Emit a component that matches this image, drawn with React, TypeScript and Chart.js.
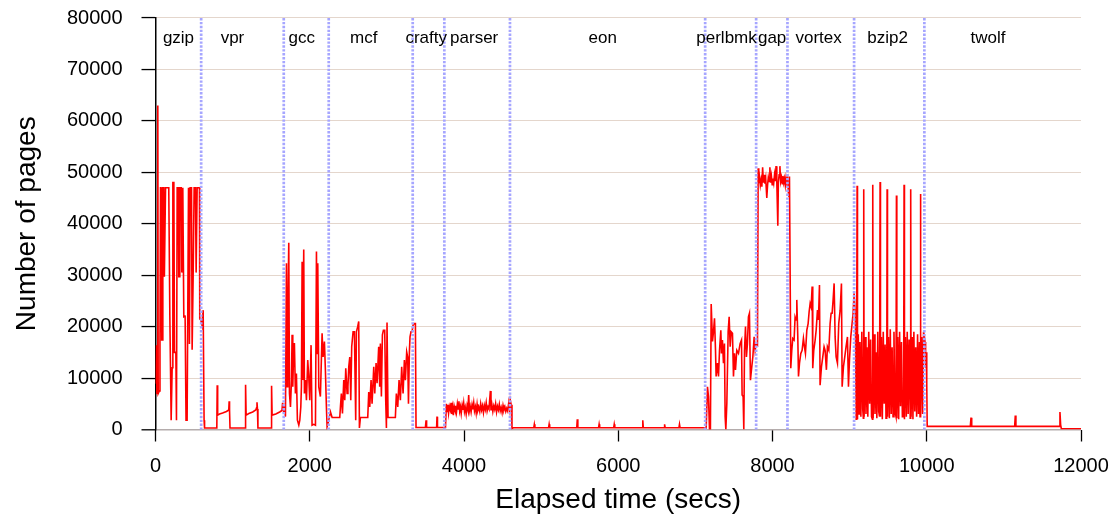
import { useEffect, useRef } from 'react';
import { Chart, registerables } from 'chart.js';

Chart.register(...registerables);

const FONT = '"Liberation Sans", Arial, Helvetica, sans-serif';

// Benchmark names, their boundaries (secs) and label centres (secs)
const benchNames = ['gzip', 'vpr', 'gcc', 'mcf', 'crafty', 'parser', 'eon', 'perlbmk', 'gap', 'vortex', 'bzip2', 'twolf'];
const benchBoundaries = [592, 1663, 2246, 3335, 3745, 4596, 7127, 7788, 8194, 9058, 9969];
const benchLabelCenters = [298, 998, 1896, 2700, 3510, 4132, 5799, 7404, 7995, 8598, 9492, 10795];

const xTicksMax = 12000;
const xTickStep = 2000;
const yTicksMax = 80000;
const yTickStep = 10000;

// [elapsed secs, number of pages]
const gzipTrace: [number, number][] = [
  [0, 9000], [6, 12200], [12, 16400], [18, 7000], [26, 7000], [30, 63000], [35, 7000], [50, 7500], [58, 17000], [65, 47000],
  [72, 47000], [80, 17400], [88, 17400], [95, 47000], [108, 47000], [115, 29700], [121, 29700], [130, 47000], [172, 47000], [186, 21900],
  [203, 1800], [216, 12000], [225, 48000], [238, 48000], [246, 15000], [264, 15000], [272, 1800], [281, 47000], [296, 47000], [302, 29700],
  [311, 29700], [315, 47000], [333, 47000], [341, 30500], [354, 47000], [367, 21900], [384, 22000], [396, 1800], [410, 1800], [428, 47000],
  [440, 16600], [449, 47000], [467, 47000], [475, 15500], [488, 29700], [501, 47000], [518, 47000], [527, 30500], [540, 47000], [570, 47000],
  [574, 21500], [583, 21500], [592, 21000],
];

const vprTrace: [number, number][] = [
  [600, 20500], [610, 21800], [618, 23200], [624, 23200], [630, 1800], [636, 300], [795, 300], [800, 8600], [806, 2800], [830, 3000],
  [870, 3200], [920, 3500], [950, 3800], [955, 5500], [960, 3800], [966, 300], [1163, 300], [1168, 8700], [1175, 2800], [1210, 3100],
  [1260, 3400], [1300, 3800], [1310, 4200], [1316, 5300], [1322, 4000], [1328, 300], [1500, 300], [1505, 8500], [1512, 2800], [1560, 3000],
  [1610, 3400], [1640, 3700], [1648, 5200], [1656, 4000],
];

const gccTrace: [number, number][] = [
  [1663, 3400], [1672, 5000], [1685, 2500], [1698, 32300], [1706, 8300], [1715, 21300], [1728, 36300], [1737, 7000], [1750, 4400], [1763, 9600],
  [1771, 18400], [1780, 8300], [1788, 13500], [1801, 16800], [1814, 7000], [1827, 10900], [1840, 1800], [1858, 840], [1871, 1800], [1884, 4400],
  [1892, 8300], [1901, 32600], [1909, 9600], [1922, 35000], [1931, 7000], [1944, 9600], [1957, 5700], [1974, 13500], [1987, 10300], [2000, 5700],
  [2017, 16400], [2030, 840], [2052, 1000], [2074, 840], [2087, 34600], [2095, 14800], [2104, 32300], [2117, 8300], [2138, 6400], [2160, 18700],
  [2173, 14100], [2190, 17100], [2203, 11500], [2216, 4400], [2225, 500], [2246, 1800],
];

const mcfTrace: [number, number][] = [
  [2268, 3440], [2290, 2340], [2389, 2340], [2398, 4400], [2410, 7000], [2424, 3100], [2441, 9600], [2454, 5700], [2467, 11900], [2484, 7000],
  [2495, 8300], [2506, 12200], [2519, 14100], [2532, 5700], [2544, 16100], [2562, 19000], [2579, 19000], [2596, 1800], [2605, 19000], [2622, 20000],
  [2635, 21000], [2644, 300], [2657, 2340], [2752, 2340], [2765, 7300], [2778, 4400], [2795, 9600], [2808, 5000], [2830, 12200], [2843, 7000],
  [2860, 12900], [2873, 9000], [2894, 16100], [2907, 8300], [2916, 16700], [2929, 6400], [2942, 18400], [2955, 19300], [2972, 19300], [2985, 5700],
  [2994, 300], [3002, 20800], [3015, 2340], [3110, 2340], [3123, 7000], [3141, 4400], [3158, 9600], [3175, 5700], [3192, 12200], [3210, 7000],
  [3227, 13500], [3240, 9600], [3257, 15100], [3270, 14100], [3280, 5000], [3292, 15100], [3300, 18000], [3313, 19000], [3326, 19000], [3340, 20300],
  [3355, 20600], [3370, 20600], [3378, 400],
];

const craftyTrace: [number, number][] = [
  [3400, 400], [3500, 400], [3508, 1800], [3515, 400], [3645, 400], [3650, 2500], [3656, 400], [3745, 400],
];

const parserTrace: [number, number][] = [
  [3760, 400], [3771, 5000], [3780, 3500], [3790, 4800], [3800, 3200], [3810, 4500], [3822, 3800], [3832, 5200], [3842, 3000], [3852, 4300],
  [3862, 2800], [3872, 4600], [3882, 3900], [3892, 4200], [3902, 3300], [3914, 5000], [3924, 4000], [3934, 5500], [3944, 3600], [3954, 4400],
  [3964, 3100], [3976, 4700], [3986, 3800], [3996, 5100], [4006, 3500], [4016, 4300], [4028, 3000], [4040, 4600], [4050, 3900], [4061, 6700],
  [4070, 3700], [4080, 4500], [4092, 3400], [4104, 4800], [4114, 3900], [4126, 5200], [4136, 3600], [4148, 4400], [4158, 3200], [4170, 4900],
  [4180, 3700], [4192, 4300], [4204, 3500], [4216, 5000], [4228, 3800], [4240, 4600], [4252, 3300], [4264, 4700], [4276, 3900], [4288, 5200],
  [4300, 3600], [4312, 4400], [4324, 4000], [4342, 7500], [4350, 3700], [4362, 4800], [4374, 3500], [4386, 4600], [4398, 3900], [4410, 5000],
  [4422, 3400], [4434, 4500], [4446, 3800], [4458, 4900], [4470, 3600], [4482, 4300], [4494, 3300], [4506, 4700], [4518, 3800], [4530, 4400],
  [4542, 3500], [4554, 4100], [4566, 3600], [4580, 5200], [4590, 4000], [4600, 5700], [4612, 4800], [4622, 200],
];

const eonTrace: [number, number][] = [
  [4640, 350], [4905, 350], [4912, 1000], [4919, 350], [5097, 350], [5104, 1000], [5111, 350], [5462, 350], [5469, 2000], [5476, 350],
  [5745, 350], [5752, 1000], [5759, 350], [5941, 350], [5948, 1000], [5955, 350], [6311, 350], [6318, 1800], [6325, 350], [6594, 350],
  [6601, 1000], [6608, 350], [6787, 350], [6794, 1000], [6801, 350], [7127, 350],
];

const perlbmkTrace: [number, number][] = [
  [7140, 300], [7157, 8300], [7170, 6400], [7183, 0], [7195, 0], [7205, 24400], [7222, 17100], [7235, 19000], [7248, 21600], [7261, 15400],
  [7269, 10300], [7287, 12900], [7300, 10300], [7313, 15400], [7330, 19300], [7338, 14800], [7351, 17400], [7364, 12900], [7377, 16700], [7386, 2500],
  [7395, 0], [7408, 5100], [7425, 19000], [7438, 21900], [7451, 16100], [7464, 19000], [7481, 18700], [7494, 10300], [7507, 14800], [7520, 11600],
  [7537, 15400], [7559, 14800], [7580, 16700], [7598, 17400], [7606, 6700], [7619, 6400], [7628, 0], [7637, 15400], [7650, 20000], [7662, 14100],
  [7675, 16700], [7688, 21900], [7701, 22600], [7714, 9600], [7727, 11600], [7745, 14100], [7762, 18000], [7775, 15400], [7788, 16700], [7805, 16400],
];

const gapTrace: [number, number][] = [
  [7814, 50800], [7822, 47900], [7832, 49000], [7842, 47500], [7852, 48500], [7862, 47200], [7872, 51000], [7882, 48000], [7892, 49500], [7902, 47800],
  [7912, 48800], [7926, 45000], [7936, 47500], [7946, 49000], [7956, 48200], [7966, 51000], [7976, 48000], [7986, 49200], [7996, 47600], [8006, 48800],
  [8016, 47900], [8026, 49500], [8036, 48300], [8046, 51200], [8056, 48000], [8069, 39600], [8076, 48000], [8086, 49500], [8096, 51200], [8106, 48200],
  [8116, 49000], [8126, 47800], [8136, 49300], [8146, 48000], [8156, 48800], [8166, 47500], [8176, 49000], [8186, 48200], [8196, 48800], [8207, 46000],
  [8214, 45300], [8220, 49200],
];

const vortexTrace: [number, number][] = [
  [8237, 11900], [8250, 15400], [8263, 17700], [8280, 17400], [8293, 21900], [8306, 21300], [8315, 25200], [8328, 18000], [8337, 10300], [8350, 12900],
  [8367, 14800], [8384, 15400], [8401, 17700], [8414, 16100], [8427, 14800], [8445, 19300], [8462, 20600], [8475, 22900], [8488, 24500], [8501, 23800],
  [8514, 27800], [8522, 11900], [8535, 15400], [8553, 17400], [8566, 19300], [8583, 23200], [8596, 21300], [8609, 28100], [8617, 8600], [8635, 12200],
  [8652, 14100], [8669, 16100], [8682, 15400], [8699, 11600], [8712, 16100], [8730, 15400], [8747, 20600], [8760, 22600], [8773, 22600], [8786, 25200],
  [8799, 28400], [8812, 18000], [8825, 14100], [8842, 12900], [8859, 20600], [8877, 23200], [8894, 28400], [8903, 8300], [8920, 12200], [8937, 14100],
  [8954, 16100], [8972, 18000], [8985, 8300], [8998, 13500], [9015, 18000], [9032, 20600], [9045, 22600], [9058, 26500], [9075, 22000],
];

const bzip2Trace: [number, number][] = [
  [9085, 2000], [9092, 20000], [9097, 47400], [9102, 2000], [9112, 18500], [9122, 3000], [9134, 17000], [9146, 2500], [9158, 19000], [9170, 4000],
  [9178, 2200], [9183, 46700], [9188, 2500], [9200, 18000], [9212, 3000], [9224, 16000], [9236, 2500], [9248, 19000], [9260, 5000], [9272, 17500],
  [9284, 2500], [9295, 2000], [9300, 47600], [9305, 2200], [9317, 18500], [9329, 3000], [9341, 15000], [9353, 2200], [9365, 19000], [9377, 3500],
  [9388, 2500], [9395, 48100], [9400, 2500], [9412, 18000], [9424, 2000], [9436, 19000], [9448, 5000], [9460, 16500], [9472, 2200], [9481, 3000],
  [9486, 46700], [9491, 2500], [9503, 18000], [9515, 2200], [9527, 19500], [9539, 3000], [9551, 16000], [9563, 2500], [9575, 19000], [9587, 3500],
  [9601, 2500], [9607, 45500], [9612, 2200], [9624, 18000], [9636, 2000], [9648, 19000], [9660, 4500], [9672, 17000], [9684, 2500], [9700, 2500],
  [9706, 47600], [9711, 2000], [9723, 18000], [9735, 2500], [9747, 19000], [9759, 3000], [9771, 17500], [9786, 2200], [9792, 46700], [9797, 2500],
  [9809, 18000], [9821, 2000], [9833, 19000], [9845, 3500], [9857, 16000], [9869, 2500], [9881, 18500], [9893, 3000], [9905, 17000], [9913, 2500],
  [9918, 45800], [9923, 2500], [9935, 18000], [9947, 3000], [9959, 19000], [9970, 18000], [9978, 17000], [9985, 12000], [9992, 15000], [10000, 9000],
  [10006, 600],
];

const twolfTrace: [number, number][] = [
  [10012, 600], [10565, 600], [10574, 2300], [10583, 600], [11140, 600], [11148, 2700], [11156, 600], [11718, 600], [11727, 3400], [11736, 900],
  [11745, 150], [12000, 150],
];

const allTraces = [
  gzipTrace, vprTrace, gccTrace, mcfTrace, craftyTrace, parserTrace,
  eonTrace, perlbmkTrace, gapTrace, vortexTrace, bzip2Trace, twolfTrace,
];

const separatorPlugin = {
  id: 'benchSeparators',
  afterDatasetsDraw(chart: any) {
    const { ctx, chartArea, scales } = chart;
    const xs = scales.x;
    ctx.save();
    ctx.strokeStyle = '#a6a6ff';
    ctx.lineWidth = 2.7;
    ctx.setLineDash([2.4, 1.5]);
    for (const b of benchBoundaries) {
      const px = xs.getPixelForValue(b);
      ctx.beginPath();
      ctx.moveTo(px, chartArea.top);
      ctx.lineTo(px, chartArea.bottom);
      ctx.stroke();
    }
    ctx.setLineDash([]);
    ctx.fillStyle = '#000';
    ctx.font = `17px ${FONT}`;
    ctx.textAlign = 'center';
    ctx.textBaseline = 'alphabetic';
    benchNames.forEach((name, i) => {
      ctx.fillText(name, xs.getPixelForValue(benchLabelCenters[i]), chartArea.top + 25);
    });
    ctx.restore();
  },
};

export default function App() {
  const ref = useRef<HTMLCanvasElement>(null);
  useEffect(() => {
    document.body.style.margin = '0';
    const points = allTraces.flat().map(([x, y]) => ({ x, y }));
    const chart = new Chart(ref.current as HTMLCanvasElement, {
      type: 'line',
      data: {
        datasets: [
          {
            data: points,
            borderColor: '#ff0000',
            borderWidth: 1.6,
            pointRadius: 0,
            tension: 0,
            fill: false,
          },
        ],
      },
      options: {
        animation: false,
        responsive: false,
        layout: { padding: { top: 18, right: 34, left: 0, bottom: 0 } },
        plugins: { legend: { display: false }, tooltip: { enabled: false } },
        scales: {
          x: {
            type: 'linear',
            min: 0,
            max: xTicksMax,
            ticks: {
              stepSize: xTickStep,
              color: '#000',
              font: { family: FONT, size: 20 },
              padding: 13,
              maxRotation: 0,
              callback: (v: any) => String(v),
            },
            grid: { drawOnChartArea: false, tickLength: 12, tickColor: '#000', tickWidth: 1.3 },
            border: { display: false },
            title: {
              display: true,
              text: 'Elapsed time (secs)',
              color: '#000',
              font: { family: FONT, size: 28 },
              padding: { top: 0, bottom: 4 },
            },
            afterFit: (s: any) => {
              s.height = 91.5;
              s.paddingLeft = 0;
              s.paddingRight = 0;
            },
          },
          y: {
            min: 0,
            max: yTicksMax,
            ticks: {
              stepSize: yTickStep,
              color: '#000',
              font: { family: FONT, size: 20 },
              padding: 19,
              callback: (v: any) => String(v),
            },
            grid: {
              color: (c: any) => (c.tick && c.tick.value === 0 ? '#b4acac' : '#e4d6cc'),
              lineWidth: (c: any) => (c.tick && c.tick.value === 0 ? 1.6 : 1.1),
              tickColor: '#000',
              tickLength: 14,
              tickWidth: 1.3,
            },
            border: { display: true, color: '#000', width: 1.5 },
            title: {
              display: true,
              text: 'Number of pages',
              color: '#000',
              font: { family: FONT, size: 28 },
              padding: { top: 10, bottom: 0 },
            },
            afterFit: (s: any) => {
              s.width = 155.5;
              s.paddingTop = 0;
              s.paddingBottom = 0;
            },
          },
        },
      } as any,
      plugins: [separatorPlugin],
    });
    return () => chart.destroy();
  }, []);
  return (
    <div style={{ width: 1115, height: 521 }}>
      <canvas ref={ref} width={1115} height={521} style={{ display: 'block' }} />
    </div>
  );
}
